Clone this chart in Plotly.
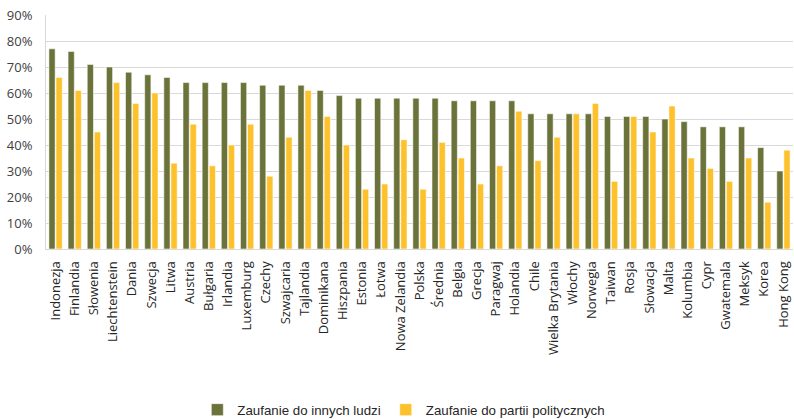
import plotly.graph_objects as go

# Kraje (oś X)
countries = [
    "Indonezja", "Finlandia", "Słowenia", "Liechtenstein", "Dania", "Szwecja",
    "Litwa", "Austria", "Bułgaria", "Irlandia", "Luxemburg", "Czechy",
    "Szwajcaria", "Tajlandia", "Dominikana", "Hiszpania", "Estonia", "Łotwa",
    "Nowa Zelandia", "Polska", "Średnia", "Belgia", "Grecja", "Paragwaj",
    "Holandia", "Chile", "Wielka Brytania", "Włochy", "Norwegia", "Taiwan",
    "Rosja", "Słowacja", "Malta", "Kolumbia", "Cypr", "Gwatemala", "Meksyk",
    "Korea", "Hong Kong",
]

# Zaufanie do innych ludzi (%)
trust_people = [
    77, 76, 71, 70, 68, 67, 66, 64, 64, 64, 64, 63,
    63, 63, 61, 59, 58, 58, 58, 58, 58, 57, 57, 57,
    57, 52, 52, 52, 52, 51, 51, 51, 50, 49, 47, 47, 47,
    39, 30,
]

# Zaufanie do partii politycznych (%)
trust_parties = [
    66, 61, 45, 64, 56, 60, 33, 48, 32, 40, 48, 28,
    43, 61, 51, 40, 23, 25, 42, 23, 41, 35, 25, 32,
    53, 34, 43, 52, 56, 26, 51, 45, 55, 35, 31, 26, 35,
    18, 38,
]

y_ticks = list(range(0, 91, 10))
y_tick_labels = [f"{v}%" for v in y_ticks]

fig = go.Figure()
fig.add_trace(go.Bar(
    x=countries, y=trust_people, name="Zaufanie do innych ludzi",
    marker=dict(color="#6B733A", line=dict(color="rgba(255,255,255,0.7)", width=0.8)),
))
fig.add_trace(go.Bar(
    x=countries, y=trust_parties, name="Zaufanie do partii politycznych",
    marker=dict(color="#FDC12C", line=dict(color="rgba(255,255,255,0.7)", width=0.8)),
))

fig.update_layout(
    width=794, height=419,
    margin=dict(l=46, r=1, t=15, b=170, autoexpand=False),
    paper_bgcolor="white", plot_bgcolor="white",
    barmode="group", bargap=0.26, bargroupgap=0.12,
    font=dict(family="Open Sans", size=13, color="#404040"),
    showlegend=True,
    legend=dict(
        orientation="h", x=0.479, xanchor="center", y=-0.688, yanchor="middle",
        font=dict(family="Liberation Sans", size=13.3, color="#262626"),
        itemwidth=30, traceorder="normal",
    ),
)

fig.update_xaxes(
    tickangle=-90, showgrid=False, showline=True, linecolor="#D9D9D9",
    linewidth=1, ticks="", ticklabelstandoff=6, automargin=False,
    tickfont=dict(family="Open Sans", size=13, color="#262626"),
)
fig.update_yaxes(
    range=[0, 90], tickvals=y_ticks, ticktext=y_tick_labels,
    showgrid=True, gridcolor="#D9D9D9", gridwidth=1,
    showline=True, linecolor="#D9D9D9", linewidth=1,
    zeroline=False, ticks="", ticklabelstandoff=10, automargin=False,
    tickfont=dict(family="Open Sans", size=13, color="#404040"),
)

fig.write_html("out.html")
